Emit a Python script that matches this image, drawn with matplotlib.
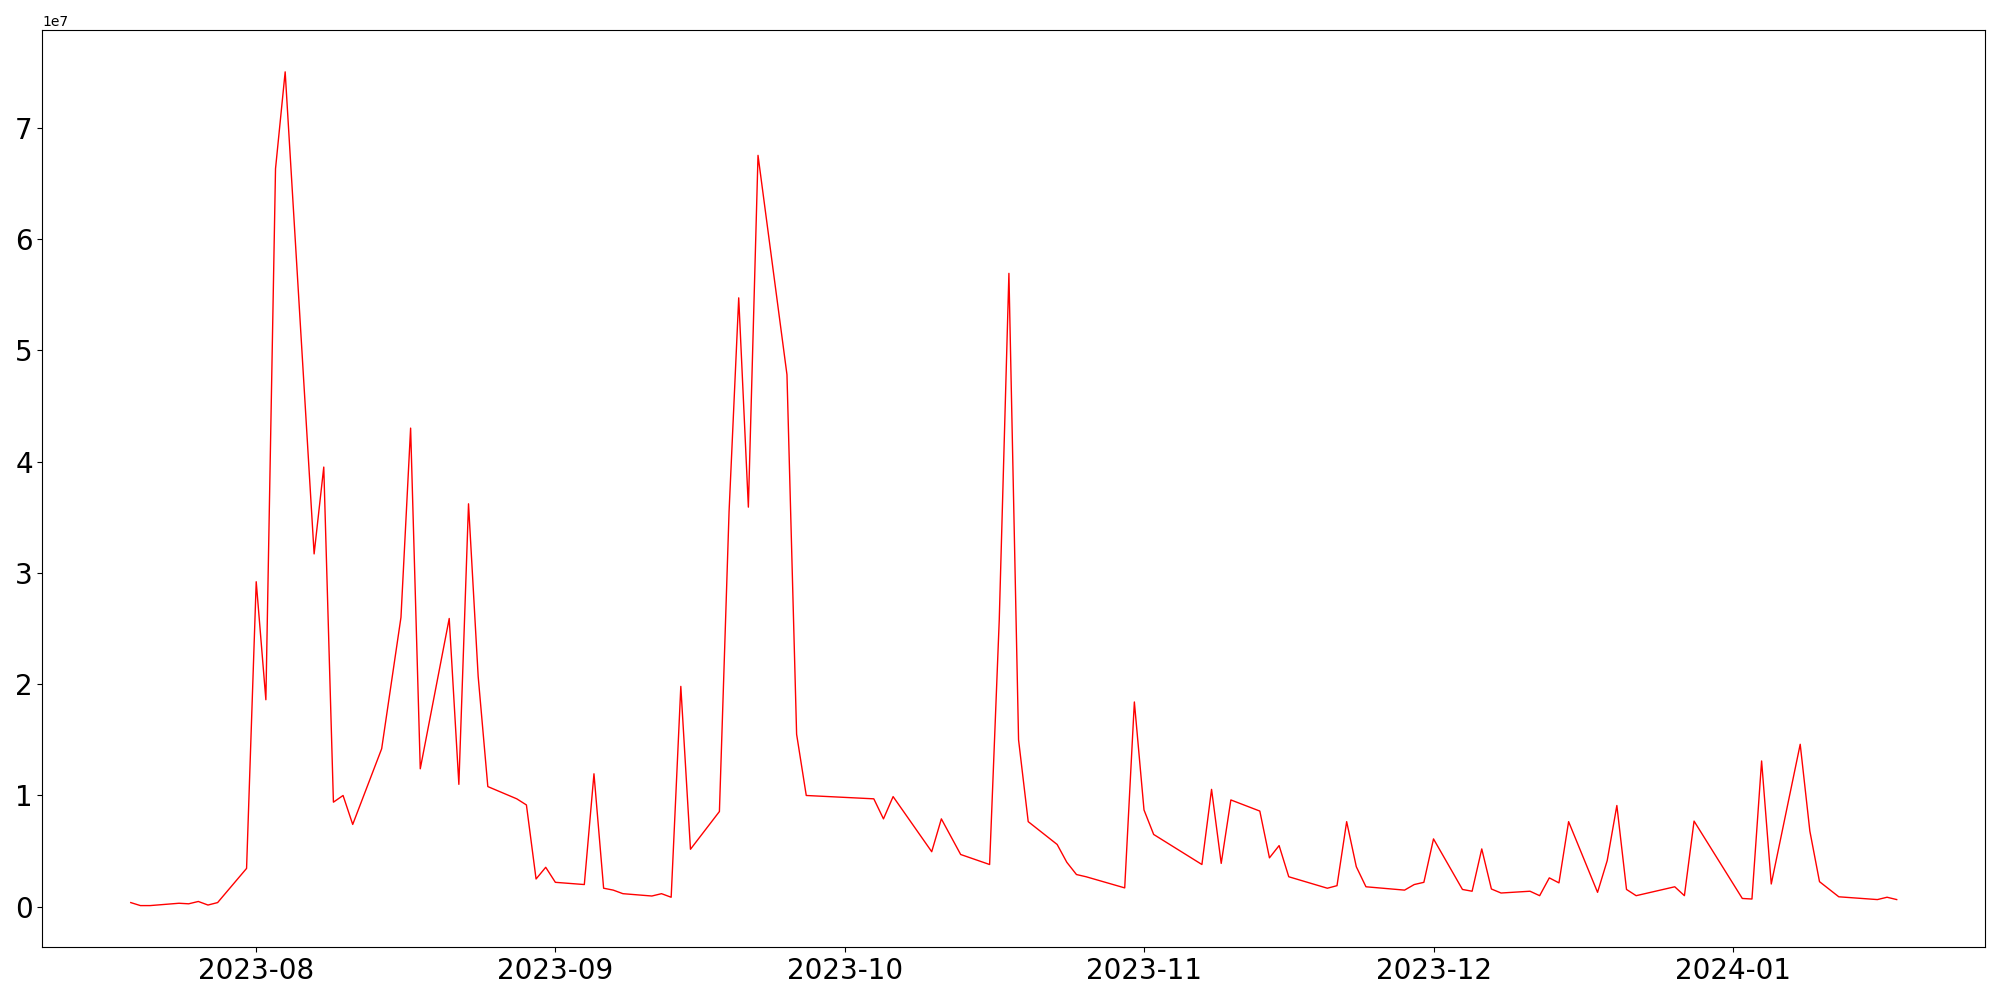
import numpy as np
import pandas as pd
import matplotlib
matplotlib.use('Agg')
import matplotlib.pyplot as plt

# daily values (trading days only)
dates = ['2023-07-19', '2023-07-20', '2023-07-21', '2023-07-24', '2023-07-25', '2023-07-26',
         '2023-07-27', '2023-07-28', '2023-07-31', '2023-08-01', '2023-08-02', '2023-08-03',
         '2023-08-04', '2023-08-07', '2023-08-08', '2023-08-09', '2023-08-10', '2023-08-11',
         '2023-08-14', '2023-08-16', '2023-08-17', '2023-08-18', '2023-08-21', '2023-08-22',
         '2023-08-23', '2023-08-24', '2023-08-25', '2023-08-28', '2023-08-29', '2023-08-30',
         '2023-08-31', '2023-09-01', '2023-09-04', '2023-09-05', '2023-09-06', '2023-09-07',
         '2023-09-08', '2023-09-11', '2023-09-12', '2023-09-13', '2023-09-14', '2023-09-15',
         '2023-09-18', '2023-09-19', '2023-09-20', '2023-09-21', '2023-09-22', '2023-09-25',
         '2023-09-26', '2023-09-27', '2023-10-04', '2023-10-05', '2023-10-06', '2023-10-10',
         '2023-10-11', '2023-10-13', '2023-10-16', '2023-10-17', '2023-10-18', '2023-10-19',
         '2023-10-20', '2023-10-23', '2023-10-24', '2023-10-25', '2023-10-26', '2023-10-30',
         '2023-10-31', '2023-11-01', '2023-11-02', '2023-11-07', '2023-11-08', '2023-11-09',
         '2023-11-10', '2023-11-13', '2023-11-14', '2023-11-15', '2023-11-16', '2023-11-20',
         '2023-11-21', '2023-11-22', '2023-11-23', '2023-11-24', '2023-11-28', '2023-11-29',
         '2023-11-30', '2023-12-01', '2023-12-04', '2023-12-05', '2023-12-06', '2023-12-07',
         '2023-12-08', '2023-12-11', '2023-12-12', '2023-12-13', '2023-12-14', '2023-12-15',
         '2023-12-18', '2023-12-19', '2023-12-20', '2023-12-21', '2023-12-22', '2023-12-26',
         '2023-12-27', '2023-12-28', '2024-01-02', '2024-01-03', '2024-01-04', '2024-01-05',
         '2024-01-08', '2024-01-09', '2024-01-10', '2024-01-12', '2024-01-16', '2024-01-17',
         '2024-01-18']

volume = [380000, 110000, 110000, 320000, 270000, 480000,
          160000, 380000, 3450000, 29200000, 18600000, 66300000,
          75000000, 31700000, 39500000, 9400000, 10000000, 7400000,
          14200000, 26000000, 43000000, 12400000, 25900000, 11000000,
          36200000, 20700000, 10800000, 9700000, 9150000, 2500000,
          3550000, 2200000, 2000000, 11950000, 1670000, 1500000,
          1180000, 970000, 1180000, 860000, 19800000, 5170000,
          8560000, 35500000, 54700000, 35900000, 67500000, 47800000,
          15500000, 10000000, 9700000, 7900000, 9900000, 4950000,
          7900000, 4700000, 3800000, 25800000, 56900000, 15000000,
          7650000, 5600000, 4000000, 2900000, 2700000, 1700000,
          18400000, 8700000, 6500000, 3800000, 10550000, 3900000,
          9600000, 8600000, 4400000, 5500000, 2700000, 1670000,
          1900000, 7650000, 3600000, 1800000, 1500000, 2000000,
          2200000, 6100000, 1560000, 1400000, 5200000, 1600000,
          1240000, 1400000, 1000000, 2600000, 2150000, 7650000,
          1300000, 4150000, 9100000, 1560000, 1000000, 1800000,
          1000000, 7700000, 750000, 700000, 13100000, 2050000,
          14600000, 6800000, 2260000, 900000, 650000, 860000,
          650000]

t = pd.to_datetime(dates)

plt.figure(figsize=(20, 10), dpi=100)
plt.plot(t, volume, color='red', linewidth=1)
plt.xticks(fontsize=20)
plt.yticks(fontsize=20)
plt.tight_layout()
plt.savefig('out.png')
